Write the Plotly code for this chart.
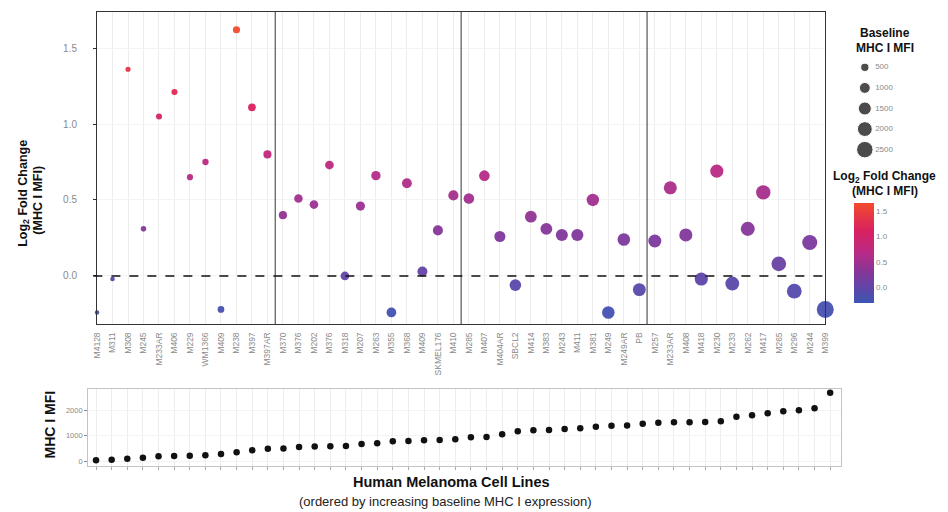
import numpy as np
import plotly.graph_objects as go

# ---------------- data ----------------
cell_lines = ["M4128", "M311", "M308", "M245", "M233AR", "M406", "M229", "WM1366", "M409", "M238", "M397", "M397AR",
              "M370", "M376", "M202", "M376", "M318", "M207", "M263", "M355", "M368", "M409", "SKMEL176", "M410",
              "M285", "M407", "M404AR", "SBCL2", "M414", "M383", "M243", "M411", "M381", "M249", "M249AR", "PB",
              "M257", "M233AR", "M408", "M418", "M230", "M233", "M262", "M417", "M265", "M296", "M244", "M399"]

log2_fold_change = [-0.24, -0.02, 1.36, 0.31, 1.05, 1.21, 0.65, 0.75, -0.22, 1.62, 1.11, 0.80,
                    0.40, 0.51, 0.47, 0.73, 0.00, 0.46, 0.66, -0.24, 0.61, 0.03, 0.30, 0.53,
                    0.51, 0.66, 0.26, -0.06, 0.39, 0.31, 0.27, 0.27, 0.50, -0.24, 0.24, -0.09,
                    0.23, 0.58, 0.27, -0.02, 0.69, -0.05, 0.31, 0.55, 0.08, -0.10, 0.22, -0.22]

baseline_mfi = [30, 45, 90, 130, 190, 198, 205, 225, 275, 340, 420, 480,
                490, 550, 570, 580, 590, 667, 693, 771, 784, 810, 824, 850,
                928, 941, 1046, 1163, 1203, 1216, 1255, 1281, 1346, 1386, 1390, 1464,
                1503, 1516, 1520, 1529, 1556, 1739, 1791, 1869, 1948, 1987, 2065, 2680]

fc_ticks = [0.0, 0.5, 1.0, 1.5]
mfi_ticks = [0, 1000, 2000]
legend_mfi = [500, 1000, 1500, 2000, 2500]
group_breaks = [11.5, 23.5, 35.5]

# ---------------- helpers ----------------
W, H = 948, 512
FONT = "Liberation Sans, Arial, sans-serif"
GRAY = "#8a8a8a"


def fx(px):
    return px / W


def fy(py):
    return 1 - py / H


mfi_arr = np.array(baseline_mfi, dtype=float)
vmin, vmax = mfi_arr.min(), mfi_arr.max()
DMIN, DMAX = 4.5, 17.0


def size_of(v):
    v = np.asarray(v, dtype=float)
    frac = np.clip((v - vmin) / (vmax - vmin), 0, 1)
    return np.sqrt(DMIN ** 2 + (DMAX ** 2 - DMIN ** 2) * frac)


idx = np.arange(len(cell_lines))
CMIN, CMAX = -0.3, 1.65
colorscale = [[0.0, "#3D55B5"], [0.28, "#7E389C"], [0.5, "#B82A86"],
              [0.72, "#DA2160"], [1.0, "#F24A2C"]]

fig = go.Figure()

# top panel: fold change
fig.add_trace(go.Scatter(
    x=idx, y=log2_fold_change, mode="markers", xaxis="x", yaxis="y",
    cliponaxis=False, showlegend=False,
    marker=dict(size=size_of(baseline_mfi), color=log2_fold_change,
                colorscale=colorscale, cmin=CMIN, cmax=CMAX, opacity=0.95,
                line=dict(width=0),
                colorbar=dict(x=fx(858), xanchor="left", y=fy(253), yanchor="middle",
                              len=100, lenmode="pixels", thickness=20, thicknessmode="pixels",
                              outlinewidth=0, tickvals=fc_ticks,
                              ticktext=[f"{t:.1f}" for t in fc_ticks],
                              tickfont=dict(size=8, color=GRAY, family=FONT),
                              ticks="", xpad=0, ypad=0)),
))

# bottom panel: baseline MFI
fig.add_trace(go.Scatter(
    x=idx, y=baseline_mfi, mode="markers", xaxis="x2", yaxis="y2",
    cliponaxis=False, showlegend=False,
    marker=dict(size=6.5, color="#111111"),
))

# size legend
leg_pos = np.arange(len(legend_mfi))
fig.add_trace(go.Scatter(
    x=[0.2] * len(legend_mfi), y=leg_pos, mode="markers", xaxis="x3", yaxis="y3",
    showlegend=False, hoverinfo="skip", cliponaxis=False,
    marker=dict(size=size_of(legend_mfi), color="#000000"),
))
fig.add_trace(go.Scatter(
    x=[0.31] * len(legend_mfi), y=leg_pos, mode="text", xaxis="x3", yaxis="y3",
    text=[str(v) for v in legend_mfi], textposition="middle right",
    textfont=dict(size=8, color=GRAY, family=FONT),
    showlegend=False, hoverinfo="skip", cliponaxis=False,
))

shapes = []
for b in group_breaks:
    shapes.append(dict(type="line", xref="x", yref="y domain", x0=b, x1=b, y0=0, y1=1,
                       line=dict(color="#333333", width=1)))
shapes.append(dict(type="line", xref="x domain", yref="y", x0=-0.005, x1=1, y0=0, y1=0,
                   line=dict(color="#111111", width=1.3, dash="dash")))

annotations = [
    dict(text="Log<sub>2</sub> Fold Change", x=fx(19), y=fy(193), textangle=-90,
         font=dict(size=12.5, color="#111", family=FONT, weight="bold")),
    dict(text="(MHC I MFI)", x=fx(33), y=fy(200), textangle=-90,
         font=dict(size=12.5, color="#111", family=FONT, weight="bold")),
    dict(text="MHC I MFI", x=fx(45), y=fy(425), textangle=-90,
         font=dict(size=14, color="#111", family=FONT, weight="bold")),
    dict(text="Human Melanoma Cell Lines", x=fx(451), y=fy(482),
         font=dict(size=14.5, color="#111", family=FONT, weight="bold")),
    dict(text="(ordered by increasing baseline MHC I expression)", x=fx(445), y=fy(501),
         font=dict(size=13, color="#222", family=FONT)),
    dict(text="Baseline", x=fx(889), y=fy(33),
         font=dict(size=12, color="#111", family=FONT, weight="bold")),
    dict(text="MHC I MFI", x=fx(889), y=fy(48),
         font=dict(size=12, color="#111", family=FONT, weight="bold")),
    dict(text="Log<sub>2</sub> Fold Change", x=fx(889), y=fy(177),
         font=dict(size=12, color="#111", family=FONT, weight="bold")),
    dict(text="(MHC I MFI)", x=fx(889), y=fy(191),
         font=dict(size=12, color="#111", family=FONT, weight="bold")),
]
for a in annotations:
    a.update(xref="paper", yref="paper", showarrow=False, xanchor="center", yanchor="middle")

fig.update_layout(
    width=W, height=H, autosize=False,
    margin=dict(l=0, r=0, t=0, b=0),
    paper_bgcolor="white", plot_bgcolor="white",
    font=dict(family=FONT),
    shapes=shapes, annotations=annotations,
    xaxis=dict(domain=[fx(93), fx(829)], anchor="y", range=[0, 47], tickmode="array", tickvals=idx,
               ticktext=cell_lines, tickangle=-90, tickfont=dict(size=8.5, color=GRAY),
               showgrid=True, gridcolor="#EDEDED", gridwidth=1, zeroline=False,
               showline=True, linecolor="#333333", linewidth=1, mirror=True, ticks="",
               ticklabelstandoff=4),
    yaxis=dict(domain=[fy(324), fy(11.7)], anchor="x", range=[-0.316, 1.739], tickmode="array",
               tickvals=fc_ticks, ticktext=[f"{t:.1f}" for t in fc_ticks],
               tickfont=dict(size=10, color=GRAY), showgrid=True, gridcolor="#F3F3F3",
               zeroline=False, showline=True, linecolor="#333333", linewidth=1, mirror=True,
               ticks="outside", ticklen=3, tickcolor="#333333", ticklabelstandoff=14),
    xaxis2=dict(domain=[fx(84), fx(845)], anchor="y2", range=[-0.507, 47.70], tickmode="array",
                tickvals=idx, showticklabels=False, showgrid=True, gridcolor="#EDEDED",
                zeroline=False, showline=True, linecolor="#C4C4C4", linewidth=1, mirror=True,
                ticks="outside", ticklen=3, tickcolor="#AAAAAA"),
    yaxis2=dict(domain=[fy(466), fy(389)], anchor="x2", range=[-196, 2824], tickmode="array",
                tickvals=mfi_ticks, ticktext=[str(t) for t in mfi_ticks],
                tickfont=dict(size=7.5, color=GRAY), showgrid=True, gridcolor="#F3F3F3",
                zeroline=False, showline=True, linecolor="#C4C4C4", linewidth=1, mirror=True,
                ticks="outside", ticklen=3, tickcolor="#888888"),
    xaxis3=dict(domain=[fx(850), fx(945)], anchor="y3", range=[0, 1], visible=False,
                fixedrange=True),
    yaxis3=dict(domain=[fy(162), fy(55)], anchor="x3", range=[4.6, -0.6], visible=False,
                fixedrange=True),
)

fig.write_html("out.html")
